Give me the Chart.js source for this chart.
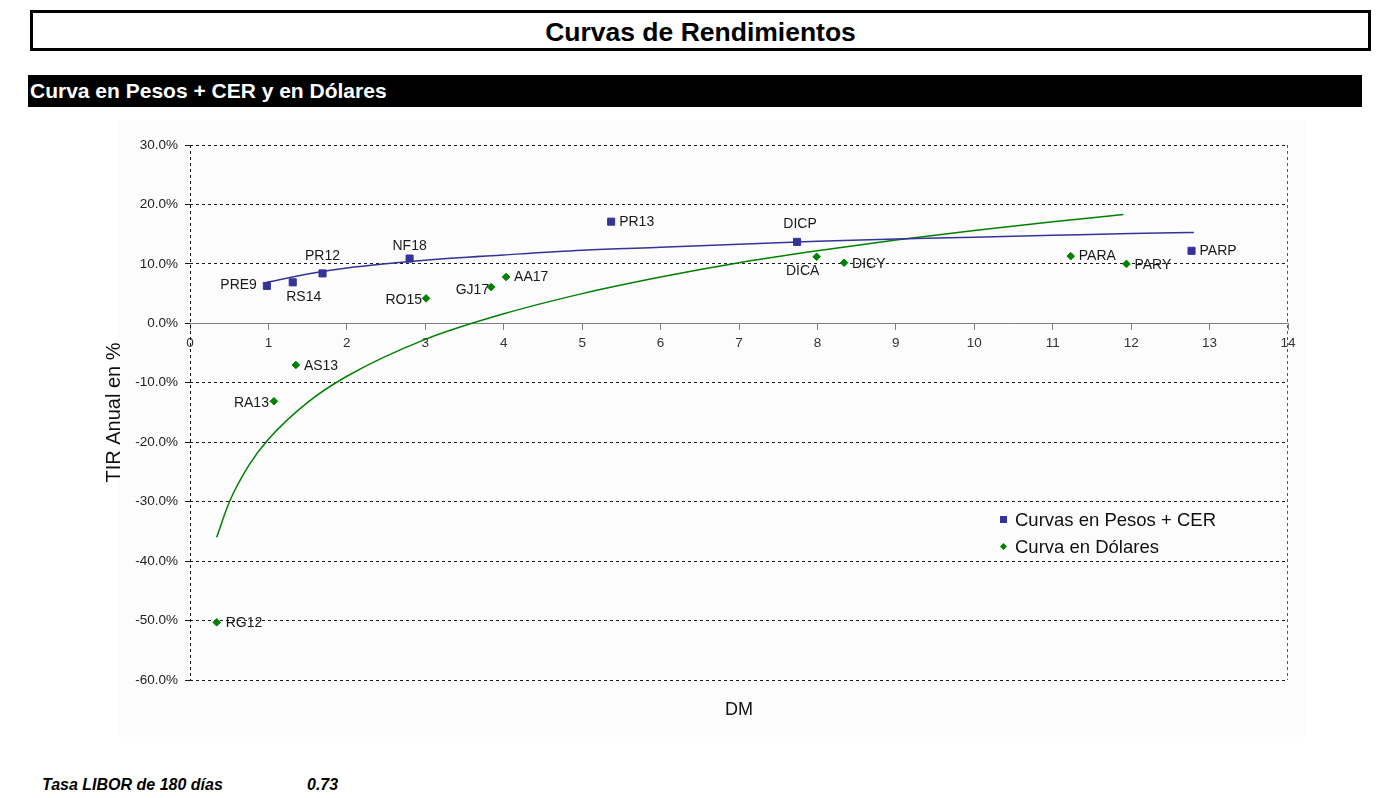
<!DOCTYPE html>
<html lang="es">
<head>
<meta charset="utf-8">
<title>Curvas de Rendimientos</title>
<script src="https://cdn.jsdelivr.net/npm/chart.js@4.4.1/dist/chart.umd.min.js"></script>
<style>
  html, body { margin: 0; padding: 0; background: #fff; }
  body { width: 1386px; height: 798px; position: relative; overflow: hidden;
         font-family: "Liberation Sans", Arial, sans-serif; color: #000; }
  #titlebox { position: absolute; left: 30px; top: 10px; width: 1341px; height: 41px;
              box-sizing: border-box; border: 3px solid #000; text-align: center;
              font-weight: bold; font-size: 26.5px; line-height: 38px; }
  #bar { position: absolute; left: 28px; top: 75px; width: 1334px; height: 32px; background: #000;
         color: #fff; font-weight: bold; font-size: 21px; line-height: 32px; padding-left: 2px; box-sizing: border-box; }
  #bg { position: absolute; left: 117px; top: 120px; width: 1188px; height: 617px; background: #fcfcfc; }
  #wrap { position: absolute; left: 95px; top: 120px; width: 1210px; height: 617px; }
  #legend { position: absolute; left: 998px; top: 506px; font-size: 18.5px; color: #111; }
  .li { position: relative; height: 27px; line-height: 27px; padding-left: 17px; white-space: nowrap; }
  .mk { position: absolute; left: 2px; top: 50%; }
  .foot { position: absolute; top: 776px; font-weight: bold; font-style: italic; font-size: 16px; }
</style>
</head>
<body>
<div id="titlebox">Curvas de Rendimientos</div>
<div id="bar">Curva en Pesos + CER y en Dólares</div>
<div id="bg"></div>
<div id="wrap"><canvas id="c" width="1210" height="617"></canvas></div>
<div id="legend"></div>
<div class="foot" style="left:42px">Tasa LIBOR de 180 días</div>
<div class="foot" style="left:307px">0.73</div>
<script>
// ---- Data ----
const pesosNames = ['PRE9', 'RS14', 'PR12', 'NF18', 'PR13', 'DICP', 'PARP'];
const pesosDM    = [0.98, 1.31, 1.69, 2.80, 5.37, 7.74, 12.77];
const pesosTIR   = [6.3, 6.9, 8.4, 10.9, 17.1, 13.7, 12.2];

const dolarNames = ['RG12', 'RA13', 'AS13', 'RO15', 'GJ17', 'AA17', 'DICA', 'DICY', 'PARA', 'PARY'];
const dolarDM    = [0.34, 1.07, 1.35, 3.01, 3.84, 4.03, 7.99, 8.34, 11.23, 11.94];
const dolarTIR   = [-50.3, -13.1, -7.0, 4.2, 6.1, 7.8, 11.2, 10.2, 11.3, 10.0];

// trend lines
const trendPesosDM  = [0.98, 1.5, 2, 3, 4, 5, 6, 7, 8, 9, 10, 11, 12, 12.8];
const trendPesosTIR = [6.9, 8.3, 9.3, 10.6, 11.5, 12.3, 12.8, 13.3, 13.8, 14.2, 14.5, 14.8, 15.1, 15.3];
const trendDolarDM  = [0.34, 0.5, 0.75, 1, 1.5, 2, 3, 4, 5, 6, 7, 8, 9, 10, 11, 11.9];
const trendDolarTIR = [-36.0, -30.1, -23.9, -19.5, -13.3, -8.9, -2.7, 1.6, 5.0, 7.8, 10.2, 12.2, 14.0, 15.6, 17.1, 18.3];

const seriesLabels = ['Curvas en Pesos + CER', 'Curva en Dólares'];
const xTitle = 'DM';
const yTitle = 'TIR Anual en %';

// ---- Styling ----
const BLUE = '#333399';
const GREEN = '#008000';
const labelPlacement = {
  PRE9: ['right', -10, -1], RS14: ['center', 11, 15], PR12: ['center', 0, -17],
  NF18: ['center', 0, -12], PR13: ['left', 8, 0], DICP: ['center', 3, -18], PARP: ['left', 8, 0],
  RG12: ['left', 9, 1], RA13: ['right', -5, 2], AS13: ['left', 8, 1], RO15: ['right', -4, 2],
  GJ17: ['right', -2, 3], AA17: ['left', 8, 0], DICA: ['center', -14, 14], DICY: ['left', 8, 1],
  PARA: ['left', 8, 0], PARY: ['left', 8, 1]
};

const zip = (xs, ys) => xs.map((x, i) => ({ x: x, y: ys[i] }));

const pointNamesPlugin = {
  id: 'pointNames',
  afterDatasetsDraw(chart) {
    const ctx = chart.ctx;
    chart.data.datasets.forEach((ds, di) => {
      if (!ds.names) return;
      const meta = chart.getDatasetMeta(di);
      meta.data.forEach((pt, i) => {
        const name = ds.names[i];
        const p = labelPlacement[name] || ['left', 8, 0];
        ctx.save();
        ctx.font = '14px "Liberation Sans", Arial, sans-serif';
        ctx.fillStyle = '#1a1a1a';
        ctx.textAlign = p[0];
        ctx.textBaseline = 'middle';
        ctx.fillText(name, pt.x + p[1], pt.y + p[2]);
        ctx.restore();
      });
    });
  }
};

const frameBorders = {
  id: 'frameBorders',
  beforeDatasetsDraw(chart) {
    const { ctx, chartArea: a } = chart;
    ctx.save();
    ctx.setLineDash([3, 3]);
    ctx.lineWidth = 1;
    ctx.strokeStyle = '#111';
    ctx.beginPath();
    ctx.moveTo(Math.round(a.left) + 0.5, a.top);
    ctx.lineTo(Math.round(a.left) + 0.5, a.bottom);
    ctx.stroke();
    ctx.strokeStyle = '#555';
    ctx.beginPath();
    ctx.moveTo(Math.round(a.right) - 0.5, a.top);
    ctx.lineTo(Math.round(a.right) - 0.5, a.bottom);
    ctx.stroke();
    ctx.restore();
  }
};

const chart = new Chart(document.getElementById('c'), {
  type: 'scatter',
  data: {
    datasets: [
      { label: seriesLabels[0], names: pesosNames, data: zip(pesosDM, pesosTIR),
        pointStyle: 'rect', pointRadius: 5, pointBorderWidth: 1,
        backgroundColor: BLUE, borderColor: BLUE, order: 1 },
      { label: seriesLabels[1], names: dolarNames, data: zip(dolarDM, dolarTIR),
        pointStyle: 'rectRot', pointRadius: 3.8, pointBorderWidth: 1,
        backgroundColor: GREEN, borderColor: GREEN, order: 1 },
      { label: 'trend-pesos', data: zip(trendPesosDM, trendPesosTIR), showLine: true,
        pointRadius: 0, borderColor: BLUE, borderWidth: 1.5, cubicInterpolationMode: 'monotone',
        fill: false, order: 2 },
      { label: 'trend-dolar', data: zip(trendDolarDM, trendDolarTIR), showLine: true,
        pointRadius: 0, borderColor: GREEN, borderWidth: 1.5, cubicInterpolationMode: 'monotone',
        fill: false, order: 2 }
    ]
  },
  options: {
    responsive: false,
    animation: false,
    layout: { padding: { top: 25, right: 17, left: 0, bottom: 0 } },
    plugins: { legend: { display: false }, tooltip: { enabled: false } },
    scales: {
      x: {
        type: 'linear', min: 0, max: 14,
        position: { y: 0 },
        afterFit(s) { s.height = 0; },
        ticks: { stepSize: 1, padding: 6, color: '#333',
                 font: { family: '"Liberation Sans", Arial, sans-serif', size: 13.5 } },
        grid: { display: true, drawOnChartArea: false, drawTicks: true, tickLength: 6, color: '#808080' },
        border: { display: true, color: '#808080', width: 1 }
      },
      xb: {
        type: 'linear', min: 0, max: 14, position: 'bottom', axis: 'x',
        afterFit(s) { s.height = 57; },
        ticks: { display: false },
        grid: { display: false },
        border: { display: false },
        title: { display: true, text: xTitle, color: '#111', padding: { top: 16, bottom: 16 },
                 font: { family: '"Liberation Sans", Arial, sans-serif', size: 18, weight: 'normal' } }
      },
      y: {
        type: 'linear', min: -60, max: 30, position: 'left',
        afterFit(s) { s.width = 95; },
        ticks: { stepSize: 10, padding: 7, color: '#222',
                 font: { family: '"Liberation Sans", Arial, sans-serif', size: 13.5 },
                 callback: v => v.toFixed(1) + '%' },
        grid: { color: c => (c.tick && c.tick.value === 0) ? 'rgba(0,0,0,0)' : '#1a1a1a',
                tickColor: '#1a1a1a', tickLength: 5, lineWidth: 1 },
        border: { display: false, dash: [3, 3] },
        title: { display: true, text: yTitle, color: '#111', padding: { top: 7, bottom: 7 },
                 font: { family: '"Liberation Sans", Arial, sans-serif', size: 20, weight: 'normal' } }
      }
    }
  },
  plugins: [frameBorders, pointNamesPlugin]
});

// HTML legend built from the scatter datasets
const legend = document.getElementById('legend');
chart.data.datasets.slice(0, 2).forEach((ds, i) => {
  const row = document.createElement('div');
  row.className = 'li';
  const mk = document.createElement('span');
  mk.className = 'mk';
  if (i === 0) {
    mk.style.cssText = 'width:7px;height:7px;margin-top:-3.5px;background:' + ds.backgroundColor;
  } else {
    mk.style.cssText = 'width:5px;height:5px;margin-top:-2.5px;left:3px;transform:rotate(45deg);background:' + ds.backgroundColor;
  }
  row.appendChild(mk);
  row.appendChild(document.createTextNode(ds.label));
  legend.appendChild(row);
});
</script>
</body>
</html>
